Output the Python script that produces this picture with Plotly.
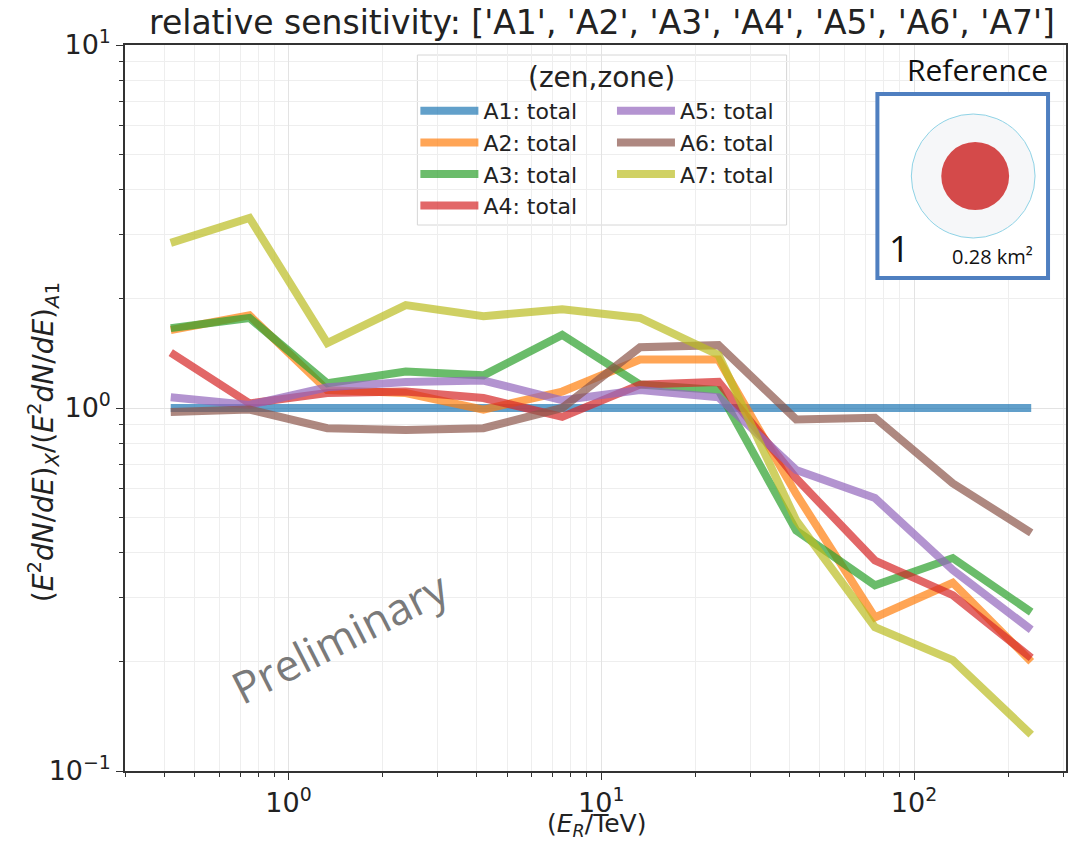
import plotly.graph_objects as go

# ---- data ----
energy = [0.42, 0.75, 1.33, 2.37, 4.2, 7.5, 13.3, 23.7, 42, 75, 133, 237]
A1 = [1.0, 1.0, 1.0, 1.0, 1.0, 1.0, 1.0, 1.0, 1.0, 1.0, 1.0, 1.0]
A2 = [1.64, 1.80, 1.12, 1.10, 0.99, 1.11, 1.36, 1.36, 0.58, 0.265, 0.33, 0.20]
A3 = [1.66, 1.77, 1.17, 1.26, 1.23, 1.59, 1.16, 1.12, 0.46, 0.325, 0.386, 0.274]
A4 = [1.42, 1.03, 1.10, 1.11, 1.065, 0.945, 1.16, 1.18, 0.64, 0.38, 0.305, 0.205]
A5 = [1.07, 1.02, 1.14, 1.18, 1.19, 1.05, 1.12, 1.07, 0.675, 0.565, 0.358, 0.245]
A6 = [0.975, 0.99, 0.88, 0.87, 0.88, 1.0, 1.47, 1.49, 0.93, 0.94, 0.62, 0.453]
A7 = [2.85, 3.34, 1.51, 1.92, 1.79, 1.87, 1.77, 1.40, 0.49, 0.249, 0.202, 0.126]
series = {"A1": A1, "A2": A2, "A3": A3, "A4": A4, "A5": A5, "A6": A6, "A7": A7}
colors = {"A1": "#1f77b4", "A2": "#ff7f0e", "A3": "#2ca02c", "A4": "#d62728",
          "A5": "#9467bd", "A6": "#8c564b", "A7": "#bcbd22"}
legend_column = {"A1": "legend", "A2": "legend", "A3": "legend", "A4": "legend",
                 "A5": "legend2", "A6": "legend2", "A7": "legend2"}
x_ticks = [1, 10, 100]
x_ticktext = ["10<sup>0</sup>", "10<sup>1</sup>", "10<sup>2</sup>"]
y_ticks = [0.1, 1, 10]
y_ticktext = ["10<sup>\u22121</sup>", "10<sup>0</sup>", "10<sup>1</sup>"]

FONT = "DejaVu Sans"
W, H = 1070, 843
L, R, T, B = 125, 2, 45, 72
pw, ph = W - L - R, H - T - B


def px(x):
    return (x - L) / pw


def py(y):
    return (H - B - y) / ph


fig = go.Figure()
for name, vals in series.items():
    fig.add_trace(go.Scatter(
        x=energy, y=vals, mode="lines", name=f"{name}: total",
        line=dict(color=colors[name], width=8), opacity=0.7,
        legend=legend_column[name],
    ))

axis_common = dict(
    type="log", showline=True, linecolor="#333", linewidth=1.5, mirror=True,
    ticks="outside", ticklen=7, tickwidth=1.2, tickcolor="#333",
    showgrid=True, gridcolor="#e3e3e3", gridwidth=1,
    tickfont=dict(family=FONT, size=27, color="#222"),
    zeroline=False,
    minor=dict(ticks="outside", ticklen=4, tickcolor="#333", showgrid=True,
               gridcolor="#eeeeee", dtick="D1"),
)

legend_common = dict(
    yanchor="top", xanchor="left", orientation="v",
    bgcolor="rgba(0,0,0,0)", borderwidth=0,
    font=dict(family=FONT, size=22, color="#222"),
    itemwidth=58, tracegroupgap=0,
)

fig.update_layout(
    width=W, height=H,
    margin=dict(l=L, r=R, t=T, b=B),
    paper_bgcolor="white", plot_bgcolor="white",
    font=dict(family=FONT, color="#222"),
    title=dict(text="relative sensitivity: ['A1', 'A2', 'A3', 'A4', 'A5', 'A6', 'A7']",
               x=602 / W, xanchor="center", y=1 - 22 / H, yanchor="middle",
               font=dict(family=FONT, size=33, color="#222")),
    xaxis=dict(axis_common, range=[-0.523, 2.486],
               tickvals=x_ticks, ticktext=x_ticktext),
    yaxis=dict(axis_common, range=[-1, 1],
               tickvals=y_ticks, ticktext=y_ticktext),
    legend=dict(legend_common, x=px(416), y=py(90)),
    legend2=dict(legend_common, x=px(613), y=py(90)),
    showlegend=True,
)

# ---- legend frame + title, Reference inset ----
shapes = []
shapes.append(dict(type="rect", xref="paper", yref="paper",
                   x0=px(418), x1=px(788), y0=py(225), y1=py(55),
                   line=dict(color="#d6d6d6", width=1),
                   fillcolor="rgba(255,255,255,0.9)", layer="below"))
shapes.append(dict(type="rect", xref="paper", yref="paper",
                   x0=px(879), x1=px(1050), y0=py(278), y1=py(94),
                   line=dict(color="#4f7fc0", width=4), fillcolor="white", layer="above"))
cx, cy = 975, 176
r1, r2 = 62, 34
shapes.append(dict(type="circle", xref="paper", yref="paper",
                   x0=px(cx - r1), x1=px(cx + r1), y0=py(cy + r1), y1=py(cy - r1),
                   line=dict(color="#8fd3e6", width=1), fillcolor="#f6f7f9", layer="above"))
shapes.append(dict(type="circle", xref="paper", yref="paper",
                   x0=px(cx + 2 - r2), x1=px(cx + 2 + r2), y0=py(cy + r2), y1=py(cy - r2),
                   line=dict(color="#d34848", width=0), fillcolor="#d44a4a", layer="above"))
fig.update_layout(shapes=shapes)

ann = []
ann.append(dict(text="(zen,zone)", xref="paper", yref="paper", x=px(603), y=py(77),
                xanchor="center", yanchor="middle", showarrow=False,
                font=dict(family=FONT, size=28, color="#222")))
ann.append(dict(text="Reference", xref="paper", yref="paper", x=px(979), y=py(69),
                xanchor="center", yanchor="middle", showarrow=False,
                font=dict(family="Open Sans", size=30, color="#111")))
ann.append(dict(text="1", xref="paper", yref="paper", x=px(901), y=py(249),
                xanchor="center", yanchor="middle", showarrow=False,
                font=dict(family="Open Sans", size=36, color="#111")))
ann.append(dict(text="0.28 km\u00b2", xref="paper", yref="paper", x=px(994), y=py(256),
                xanchor="center", yanchor="middle", showarrow=False,
                font=dict(family="Open Sans", size=20, color="#111")))
ann.append(dict(text="Preliminary", xref="paper", yref="paper", x=px(340), y=py(637),
                xanchor="center", yanchor="middle", showarrow=False, textangle=-27,
                font=dict(family="Open Sans", size=44, color="#7a7a7a")))
# axis titles
ann.append(dict(text="(<i>E<sub>R</sub></i>/TeV)", xref="paper", yref="paper",
                x=px(598), y=py(825), xanchor="center", yanchor="middle", showarrow=False,
                font=dict(family=FONT, size=25, color="#222")))
ann.append(dict(text="(<i>E</i><sup>2</sup><i>dN</i>/<i>dE</i>)<sub><i>X</i></sub>/"
                     "(<i>E</i><sup>2</sup><i>dN</i>/<i>dE</i>)<sub><i>A</i>1</sub>",
                xref="paper", yref="paper", x=px(44), y=py(442), xanchor="center",
                yanchor="middle", showarrow=False, textangle=-90,
                font=dict(family=FONT, size=28, color="#222")))
fig.update_layout(annotations=ann)

fig.write_html("out.html")
